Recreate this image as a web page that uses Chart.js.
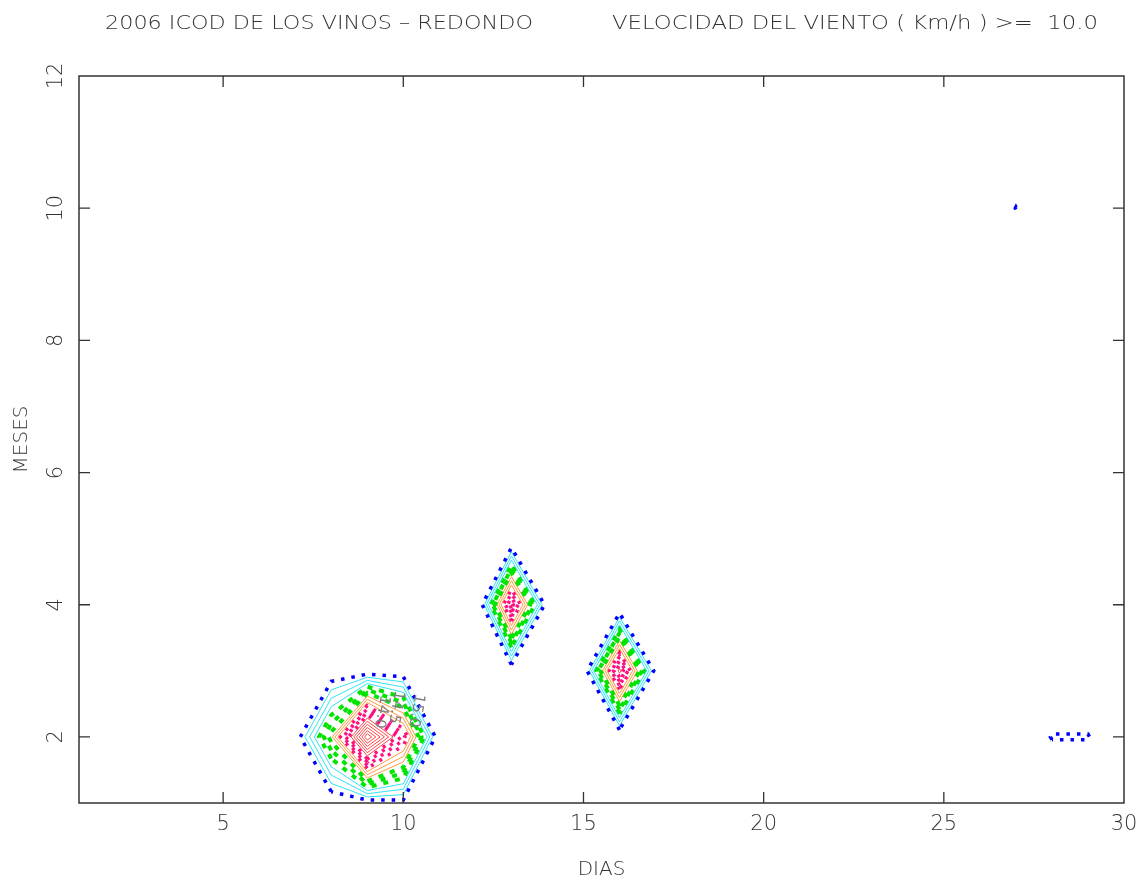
<!DOCTYPE html>
<html>
<head>
<meta charset="utf-8">
<script src="https://cdn.jsdelivr.net/npm/chart.js@4.4.1/dist/chart.umd.min.js"></script>
<style>
  html, body { margin: 0; padding: 0; background: #fff; }
  #wrap { width: 1141px; height: 880px; }
</style>
</head>
<body>
<div id="wrap"><canvas id="windChart" width="1141" height="880"></canvas></div>
<script>
// wind speed (km/h) per day / month node; nodes not listed are below threshold (0)
const nodeDays   = [7, 8, 9, 10, 11, 8, 9, 10, 8, 9, 10, 13, 13, 13, 12, 14, 16, 16, 16, 15, 17, 27, 28, 29];
const nodeMonths = [2, 2, 2, 2, 2, 3, 3, 3, 1, 1, 1, 4, 5, 3, 4, 4, 3, 4, 2, 3, 3, 10, 2, 2];
const nodeSpeeds = [9.46, 13.3, 20.0, 15.8, 9.28, 9.37, 9.47, 9.43, 9.32, 9.53, 9.73,
                    16.9, 8.9, 9.3, 8.4, 9.4, 17.3, 8.95, 9.13, 9.19, 9.62, 10.2, 10.45, 10.45];

const contourLevels = [10, 10.5, 11, 11.5, 12, 12.5, 13, 13.5, 14, 14.5, 15, 15.5, 16, 16.5,
                       17, 17.5, 18, 18.5, 19, 19.5];

const xTicks = [5, 10, 15, 20, 25, 30];
const yTicks = [2, 4, 6, 8, 10, 12];

// contour labels
const labelTexts  = ["15.0", "14.5", "14.0"];
const labelDays   = [10.36, 9.8, 9.4];
const labelMonths = [2.4, 2.45, 2.38];

const titleLeft  = "2006 ICOD DE LOS VINOS \u2013 REDONDO";
const titleRight = "VELOCIDAD DEL VIENTO ( Km/h ) >=  10.0";

const NX = 30, NY = 12;
const FONT = '"DejaVu Sans", "Liberation Sans", sans-serif';

// build grid
const grid = [];
for (let j = 0; j < NY; j++) grid.push(new Array(NX).fill(0));
nodeDays.forEach((d, k) => { grid[nodeMonths[k] - 1][d - 1] = nodeSpeeds[k]; });

function crossing(i1, j1, i2, j2, lv) {
    const a = grid[j1][i1], b = grid[j2][i2];
    const t = (lv - a) / (b - a);
    return { x: 1 + i1 + t * (i2 - i1), y: 1 + j1 + t * (j2 - j1) };
}

// marching squares for one level
function contourSegments(lv) {
    const segs = [];
    for (let j = 0; j < NY - 1; j++) {
        for (let i = 0; i < NX - 1; i++) {
            const v = [grid[j][i], grid[j][i + 1], grid[j + 1][i + 1], grid[j + 1][i]];
            const b = v.map(x => x >= lv);
            const edges = [];
            if (b[0] !== b[1]) edges[0] = crossing(i, j, i + 1, j, lv);
            if (b[1] !== b[2]) edges[1] = crossing(i + 1, j, i + 1, j + 1, lv);
            if (b[3] !== b[2]) edges[2] = crossing(i, j + 1, i + 1, j + 1, lv);
            if (b[0] !== b[3]) edges[3] = crossing(i, j, i, j + 1, lv);
            const found = [0, 1, 2, 3].filter(e => edges[e]);
            if (found.length === 2) {
                segs.push([edges[found[0]], edges[found[1]]]);
            } else if (found.length === 4) {
                const centerHigh = (v[0] + v[1] + v[2] + v[3]) / 4 >= lv;
                if (b[0] !== centerHigh) {
                    segs.push([edges[3], edges[0]], [edges[1], edges[2]]);
                } else {
                    segs.push([edges[0], edges[1]], [edges[2], edges[3]]);
                }
            }
        }
    }
    return segs;
}

function key(p) { return p.x.toFixed(6) + "," + p.y.toFixed(6); }

// join cell segments into polylines
function chain(segs) {
    const used = new Array(segs.length).fill(false);
    const byKey = new Map();
    segs.forEach((s, i) => s.forEach(p => {
        const k = key(p);
        if (!byKey.has(k)) byKey.set(k, []);
        byKey.get(k).push(i);
    }));
    const lines = [];
    for (let i = 0; i < segs.length; i++) {
        if (used[i]) continue;
        used[i] = true;
        const line = [segs[i][0], segs[i][1]];
        // forward
        while (true) {
            const k = key(line[line.length - 1]);
            const next = byKey.get(k).find(n => !used[n]);
            if (next === undefined) break;
            used[next] = true;
            const s = segs[next];
            line.push(key(s[0]) === k ? s[1] : s[0]);
        }
        // backward
        while (true) {
            const k = key(line[0]);
            const next = byKey.get(k).find(n => !used[n]);
            if (next === undefined) break;
            used[next] = true;
            const s = segs[next];
            line.unshift(key(s[0]) === k ? s[1] : s[0]);
        }
        lines.push(line);
    }
    return lines;
}

function levelStyle(lv) {
    if (lv < 10.5) return { color: "#0000ff", width: 3.5, dash: [3.5, 7] };
    if (lv < 12)   return { color: "#30e4f2", width: 1, dash: [] };
    if (lv < 13.5) return { color: "#00e400", width: 4, dash: [5, 7] };
    if (lv < 15)   return { color: "#ff9a40", width: 1, dash: [] };
    if (lv < 17)   return { color: "#ff1080", width: 3.5, dash: [3, 7] };
    return { color: "#ff4848", width: 1, dash: [] };
}

const datasets = [];
contourLevels.forEach(lv => {
    const st = levelStyle(lv);
    chain(contourSegments(lv)).forEach(line => {
        datasets.push({
            data: line,
            showLine: true,
            borderColor: st.color,
            borderWidth: st.width,
            borderDash: st.dash,
            pointRadius: 0,
            fill: false,
            tension: 0
        });
    });
});

// FRAME, TICKS AND TEXT
const framePlugin = {
    id: "frame",
    afterDraw(chart) {
        const { ctx, chartArea: a, scales: { x, y } } = chart;
        ctx.save();
        ctx.strokeStyle = "#333";
        ctx.lineWidth = 1.5;
        ctx.setLineDash([]);
        ctx.strokeRect(a.left, a.top, a.right - a.left, a.bottom - a.top);

        const tl = 11;
        ctx.beginPath();
        xTicks.forEach(v => {
            if (v >= 30) return;
            const px = x.getPixelForValue(v);
            ctx.moveTo(px, a.bottom); ctx.lineTo(px, a.bottom - tl);
            ctx.moveTo(px, a.top);    ctx.lineTo(px, a.top + tl);
        });
        yTicks.forEach(v => {
            if (v >= 12) return;
            const py = y.getPixelForValue(v);
            ctx.moveTo(a.left, py);  ctx.lineTo(a.left + tl, py);
            ctx.moveTo(a.right, py); ctx.lineTo(a.right - tl, py);
        });
        ctx.lineWidth = 1.3;
        ctx.stroke();

        ctx.fillStyle = "#333";
        ctx.font = "300 21px " + FONT;
        ctx.textAlign = "center";
        ctx.textBaseline = "middle";
        xTicks.forEach(v => ctx.fillText(String(v), x.getPixelForValue(v), 825));
        yTicks.forEach(v => {
            ctx.save();
            ctx.translate(57, y.getPixelForValue(v));
            ctx.rotate(-Math.PI / 2);
            ctx.fillText(String(v), 0, 0);
            ctx.restore();
        });

        ctx.font = "300 20px " + FONT;
        ctx.fillText("DIAS", (a.left + a.right) / 2, 870);
        ctx.save();
        ctx.translate(22, (a.top + a.bottom) / 2);
        ctx.rotate(-Math.PI / 2);
        ctx.fillText("MESES", 0, 0);
        ctx.restore();

        // title, fitted to its span
        const fit = (text, x0, x1, yy) => {
            const w = ctx.measureText(text).width;
            ctx.save();
            ctx.translate(x0, yy);
            ctx.scale((x1 - x0) / w, 1);
            ctx.textAlign = "left";
            ctx.fillText(text, 0, 0);
            ctx.restore();
        };
        ctx.font = "300 20px " + FONT;
        fit(titleLeft, 105, 533, 24);
        fit(titleRight, 612, 1098, 24);

        // contour labels
        ctx.fillStyle = "#808080";
        ctx.font = "15px " + FONT;
        labelTexts.forEach((t, k) => {
            ctx.save();
            ctx.translate(x.getPixelForValue(labelDays[k]), y.getPixelForValue(labelMonths[k]));
            ctx.rotate(Math.PI * 0.56);
            ctx.fillText(t, 0, 0);
            ctx.restore();
        });
        ctx.restore();
    }
};

new Chart(document.getElementById("windChart"), {
    type: "scatter",
    data: { datasets },
    options: {
        responsive: false,
        animation: false,
        layout: { padding: { left: 79, right: 17, top: 76, bottom: 77 } },
        plugins: { legend: { display: false }, tooltip: { enabled: false } },
        scales: {
            x: { type: "linear", min: 1, max: 30, display: false },
            y: { type: "linear", min: 1, max: 12, display: false }
        }
    },
    plugins: [framePlugin]
});
</script>
</body>
</html>
